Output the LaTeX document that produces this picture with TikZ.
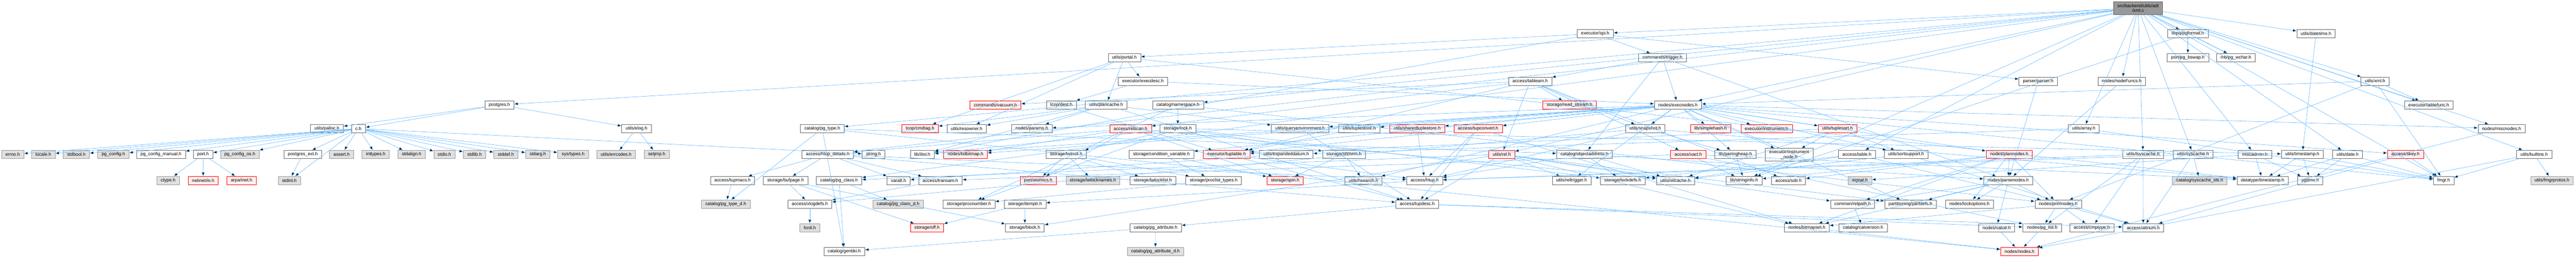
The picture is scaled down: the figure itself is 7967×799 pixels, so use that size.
\documentclass[tikz,border=0pt]{standalone}
\usepackage{fontspec}
\setmainfont{Liberation Sans}
\usetikzlibrary{arrows.meta}
\definecolor{edgeblue}{HTML}{63B8FF}
\definecolor{boxline}{HTML}{666666}
\definecolor{sysline}{HTML}{999999}
\definecolor{sysfill}{HTML}{E0E0E0}
\definecolor{cutfill}{HTML}{FFF0F0}
\definecolor{rootfill}{HTML}{999999}
\tikzset{
  hdr/.style={draw=boxline, fill=white, line width=1pt, minimum height=25.5pt,
    inner xsep=12.3pt, inner ysep=2pt, align=center, font=\fontsize{14}{15}\selectfont},
  syshdr/.style={hdr, draw=sysline, fill=sysfill},
  cuthdr/.style={hdr, draw=red, fill=cutfill},
  roothdr/.style={hdr, fill=rootfill, minimum height=40pt},
  inc/.style={draw=edgeblue, line width=1pt, -{Stealth[length=12pt,width=9pt,inset=0pt]}},
}
\begin{document}
\begin{tikzpicture}[x=1pt,y=-1pt]
\useasboundingbox (0,0) rectangle (7967,799);
% row 0 and 1
\node[roothdr] (xmlc) at (6612.5,25) {src/backend/utils/adt\\/xml.c};
\node[hdr] (spi) at (4933.5,104.5) {executor/spi.h};
\node[hdr] (pqformat) at (6766.5,104.5) {libpq/pqformat.h};
\node[hdr] (datetime) at (7163,104.5) {utils/datetime.h};
% row 2
\node[hdr] (portal) at (3477.5,178.5) {utils/portal.h};
\node[hdr] (trigger) at (5141.5,178.5) {commands/trigger.h};
\node[hdr] (bswap) at (6766.5,178.5) {port/pg\_bswap.h};
\node[hdr] (wchar) at (6915,178.5) {mb/pg\_wchar.h};
% row 3
\node[hdr] (execdesc) at (3535,251.5) {executor/execdesc.h};
\node[hdr] (tableam) at (4732.5,251.5) {access/tableam.h};
\node[hdr] (parser) at (6303.5,251.5) {parser/parser.h};
\node[hdr] (nodefuncs) at (6562,251.5) {nodes/nodeFuncs.h};
\node[hdr] (xmlh) at (7345.5,251.5) {utils/xml.h};
% row 4
\node[hdr] (pgh) at (1544.5,325) {postgres.h};
\node[cuthdr] (vacuum) at (3078.5,325) {commands/vacuum.h};
\node[hdr] (dest) at (3282.5,325) {tcop/dest.h};
\node[hdr] (plancache) at (3421,325) {utils/plancache.h};
\node[hdr] (namespace) at (3643,325) {catalog/namespace.h};
\node[cuthdr] (readstream) at (4854.5,325) {storage/read\_stream.h};
\node[hdr] (execnodes) at (5189.5,325) {nodes/execnodes.h};
\node[hdr] (tablefunc) at (7511.5,325) {executor/tablefunc.h};
% row 5
\node[hdr] (palloc) at (1011,398.5) {utils/palloc.h};
\node[hdr] (ch) at (1108.5,398.5) {c.h};
\node[hdr] (elog) at (1968.5,398.5) {utils/elog.h};
\node[hdr] (pgtype) at (2543,398.5) {catalog/pg\_type.h};
\node[cuthdr] (cmdtag) at (2845.5,398.5) {tcop/cmdtag.h};
\node[hdr] (resowner) at (2989.5,398.5) {utils/resowner.h};
\node[hdr] (params) at (3191,398.5) {nodes/params.h};
\node[cuthdr] (relscan) at (3496.5,398.5) {access/relscan.h};
\node[hdr] (lock) at (3642.5,398.5) {storage/lock.h};
\node[hdr] (queryenv) at (4020.5,398.5) {utils/queryenvironment.h};
\node[hdr] (tuplestore) at (4204,398.5) {utils/tuplestore.h};
\node[cuthdr] (sharedts) at (4383,398.5) {utils/sharedtuplestore.h};
\node[cuthdr] (tupconvert) at (4571.5,398.5) {access/tupconvert.h};
\node[hdr] (snapshot) at (5088.5,398.5) {utils/snapshot.h};
\node[cuthdr] (simplehash) at (5290.5,398.5) {lib/simplehash.h};
\node[cuthdr] (instrument) at (5463.5,398.5) {executor/instrument.h};
\node[cuthdr] (tuplesort) at (5683,398.5) {utils/tuplesort.h};
\node[hdr] (array) at (6444.5,398.5) {utils/array.h};
\node[hdr] (miscnodes) at (7736.5,398.5) {nodes/miscnodes.h};
% row 6
\node[syshdr] (errno) at (39,478.5) {errno.h};
\node[syshdr] (locale) at (134,478.5) {locale.h};
\node[syshdr] (stdbool) at (236,478.5) {stdbool.h};
\node[syshdr] (pgconfig) at (350.5,478.5) {pg\_config.h};
\node[hdr] (pgcfgman) at (498,478.5) {pg\_config\_manual.h};
\node[hdr] (port) at (628,478.5) {port.h};
\node[syshdr] (pgcfgos) at (741.5,478.5) {pg\_config\_os.h};
\node[hdr] (pgext) at (936.5,478.5) {postgres\_ext.h};
\node[syshdr] (assert) at (1056.5,478.5) {assert.h};
\node[syshdr] (inttypes) at (1162,478.5) {inttypes.h};
\node[syshdr] (stdalign) at (1273,478.5) {stdalign.h};
\node[syshdr] (stdio) at (1374.5,478.5) {stdio.h};
\node[syshdr] (stdlib) at (1467.5,478.5) {stdlib.h};
\node[syshdr] (stddef) at (1564.5,478.5) {stddef.h};
\node[syshdr] (stdarg) at (1663.5,478.5) {stdarg.h};
\node[syshdr] (systypes) at (1772.5,478.5) {sys/types.h};
\node[syshdr] (errcodes) at (1905.5,478.5) {utils/errcodes.h};
\node[syshdr] (setjmp) at (2031,478.5) {setjmp.h};
\node[hdr] (htupdet) at (2560,478.5) {access/htup\_details.h};
\node[hdr] (string) at (2701.5,478.5) {string.h};
\node[hdr] (ilist) at (2852.5,478.5) {lib/ilist.h};
\node[cuthdr] (tidbitmap) at (2986,478.5) {nodes/tidbitmap.h};
\node[hdr] (lwlock) at (3297.5,478.5) {storage/lwlock.h};
\node[hdr] (condvar) at (3592,478.5) {storage/condition\_variable.h};
\node[cuthdr] (tuptable) at (3793.5,478.5) {executor/tuptable.h};
\node[hdr] (expanded) at (3978,478.5) {utils/expandeddatum.h};
\node[hdr] (shmem) at (4156.5,478.5) {storage/shmem.h};
\node[cuthdr] (rel) at (4644.5,478.5) {utils/rel.h};
\node[hdr] (objaddr) at (4900.5,478.5) {catalog/objectaddress.h};
\node[cuthdr] (xact) at (5221.5,478.5) {access/xact.h};
\node[hdr] (pairing) at (5367,478.5) {lib/pairingheap.h};
\node[hdr, minimum height=40pt] (instrnode) at (5533.5,480) {executor/instrument\\\_node.h};
\node[hdr] (table) at (5743,478.5) {access/table.h};
\node[hdr] (sortsup) at (5895,478.5) {utils/sortsupport.h};
\node[cuthdr] (plannodes) at (6214,478.5) {nodes/plannodes.h};
\node[hdr] (lsyscache) at (6628,478.5) {utils/lsyscache.h};
\node[hdr] (syscache) at (6782.5,478.5) {utils/syscache.h};
\node[hdr] (miscadmin) at (6973.5,478.5) {miscadmin.h};
\node[hdr] (timestamp) at (7120.5,478.5) {utils/timestamp.h};
\node[hdr] (date) at (7260.5,478.5) {utils/date.h};
\node[cuthdr] (skey) at (7439.5,478.5) {access/skey.h};
\node[hdr] (builtins) at (7837.5,478.5) {utils/builtins.h};
% row 7
\node[syshdr] (ctype) at (520,559.5) {ctype.h};
\node[cuthdr] (netinet) at (628.5,559.5) {netinet/in.h};
\node[cuthdr] (arpa) at (747,559.5) {arpa/inet.h};
\node[syshdr] (stdint) at (895,559.5) {stdint.h};
\node[hdr] (tupmacs) at (2265.5,559.5) {access/tupmacs.h};
\node[hdr] (bufpage) at (2429.5,559.5) {storage/bufpage.h};
\node[hdr] (pgclass) at (2595,559.5) {catalog/pg\_class.h};
\node[hdr] (varatt) at (2779,559.5) {varatt.h};
\node[hdr] (transam) at (2908.5,559.5) {access/transam.h};
\node[cuthdr] (atomics) at (3211,559.5) {port/atomics.h};
\node[syshdr] (lwlocknames) at (3380,559.5) {storage/lwlocknames.h};
\node[hdr] (lwlocklist) at (3565.5,559.5) {storage/lwlocklist.h};
\node[hdr] (proclist) at (3753.5,559.5) {storage/proclist\_types.h};
\node[cuthdr] (spin) at (3974.5,559.5) {storage/spin.h};
\node[hdr] (hsearch) at (4217,559.5) {utils/hsearch.h};
\node[hdr] (htup) at (4406,559.5) {access/htup.h};
\node[hdr] (reltrigger) at (4860.5,559.5) {utils/reltrigger.h};
\node[hdr] (lockdefs) at (5018.5,559.5) {storage/lockdefs.h};
\node[hdr] (relcache) at (5181.5,559.5) {utils/relcache.h};
\node[hdr] (stringinfo) at (5394,559.5) {lib/stringinfo.h};
\node[hdr] (sdir) at (5531.5,559.5) {access/sdir.h};
\node[syshdr] (signal) at (5752.5,559.5) {signal.h};
\node[hdr] (parsenodes) at (6211,559.5) {nodes/parsenodes.h};
\node[syshdr] (syscacheids) at (6803,559.5) {catalog/syscache\_ids.h};
\node[hdr] (dtimestamp) at (6997.5,559.5) {datatype/timestamp.h};
\node[hdr] (pgtime) at (7145,559.5) {pgtime.h};
\node[hdr] (fmgr) at (7557.5,559.5) {fmgr.h};
\node[syshdr] (fmgrprotos) at (7892.5,559.5) {utils/fmgrprotos.h};
% row 8
\node[syshdr] (pgtyped) at (2244.5,632.5) {catalog/pg\_type\_d.h};
\node[hdr] (xlogdefs) at (2504.5,632.5) {access/xlogdefs.h};
\node[syshdr] (pgclassd) at (2777.5,632.5) {catalog/pg\_class\_d.h};
\node[hdr] (procnumber) at (2996.5,632.5) {storage/procnumber.h};
\node[hdr] (itemptr) at (3170,632.5) {storage/itemptr.h};
\node[hdr] (tupdesc) at (4383,632.5) {access/tupdesc.h};
\node[hdr] (relpath) at (5729.5,632.5) {common/relpath.h};
\node[hdr] (partdefs) at (5908.5,632.5) {partitioning/partdefs.h};
\node[hdr] (lockopts) at (6091,632.5) {nodes/lockoptions.h};
\node[hdr] (primnodes) at (6365.5,632.5) {nodes/primnodes.h};
% row 9 and 10
\node[syshdr] (fcntl) at (2504.5,706) {fcntl.h};
\node[cuthdr] (off) at (2867,706) {storage/off.h};
\node[hdr] (block) at (3169.5,706) {storage/block.h};
\node[hdr] (pgattr) at (3574,706) {catalog/pg\_attribute.h};
\node[hdr] (bitmapset) at (5588,706) {nodes/bitmapset.h};
\node[hdr] (catversion) at (5762,706) {catalog/catversion.h};
\node[hdr] (value) at (6175,706) {nodes/value.h};
\node[hdr] (pglist) at (6316,706) {nodes/pg\_list.h};
\node[hdr] (cmptype) at (6469.5,706) {access/cmptype.h};
\node[hdr] (attnum) at (6628.5,706) {access/attnum.h};
\node[hdr] (genbki) at (2611,779.5) {catalog/genbki.h};
\node[syshdr] (pgattrd) at (3573.5,779.5) {catalog/pg\_attribute\_d.h};
\node[cuthdr] (nodes) at (6246,779.5) {nodes/nodes.h};
% includes
\path[inc] (xmlc) edge (pgh) edge (htupdet) edge (table) edge (namespace) edge (pgclass)
  edge (pgtype) edge (spi) edge (tablefunc) edge (fmgr) edge (stringinfo) edge (pqformat)
  edge (wchar) edge (miscadmin) edge (execnodes) edge (miscnodes) edge (nodefuncs)
  edge (array) edge (builtins) edge (date) edge (datetime) edge (lsyscache) edge (rel)
  edge (syscache) edge (xmlh);
\path[inc] (pgh) edge (palloc) edge (ch) edge (elog);
\path[inc] (ch) edge (errno) edge (locale) edge (stdbool) edge (pgconfig) edge (pgcfgman)
  edge (port) edge (pgcfgos) edge (pgext) edge (stdint) edge (assert) edge (inttypes)
  edge (stdalign) edge (stdio) edge (stdlib) edge (stddef) edge (stdarg) edge (systypes)
  edge (string);
\path[inc] (port) edge (ctype) edge (netinet) edge (arpa);
\path[inc] (pgext) edge (stdint);
\path[inc] (elog) edge (errcodes) edge (setjmp);
\path[inc] (htupdet) edge (htup) edge (transam) edge (tupdesc) edge (tupmacs) edge (bufpage) edge (varatt);
\path[inc] (tupmacs) edge (pgtyped);
\path[inc] (bufpage) edge (xlogdefs) edge (block) edge (off);
\path[inc] (xlogdefs) edge (fcntl);
\path[inc] (transam) edge (xlogdefs);
\path[inc] (pgclass) edge (genbki) edge (pgclassd);
\path[inc] (pgtype) edge (genbki) edge (objaddr) edge (pgtyped) edge (nodes);
\path[inc] (tupdesc) edge (attnum) edge (pgattr) edge (pglist);
\path[inc] (pgattr) edge (genbki) edge (pgattrd);
\path[inc] (htup) edge (itemptr);
\path[inc] (itemptr) edge (block) edge (off);
\path[inc] (table) edge (primnodes) edge (lockdefs) edge (relcache);
\path[inc] (namespace) edge (lock) edge (primnodes) edge (procnumber);
\path[inc] (lock) edge (ilist) edge (lockdefs) edge (lwlock) edge (shmem) edge (timestamp) edge (procnumber);
\path[inc] (lwlock) edge (atomics) edge (lwlocknames) edge (lwlocklist) edge (proclist);
\path[inc] (proclist) edge (procnumber);
\path[inc] (condvar) edge (proclist) edge (spin);
\path[inc] (shmem) edge (hsearch) edge (spin);
\path[inc] (spi) edge (trigger) edge (ilist) edge (parser) edge (portal);
\path[inc] (trigger) edge (tableam) edge (objaddr) edge (execnodes) edge (parsenodes);
\path[inc] (portal) edge (execdesc) edge (plancache) edge (cmdtag) edge (resowner) edge (dtimestamp);
\path[inc] (execdesc) edge (dest) edge (execnodes);
\path[inc] (dest) edge (tuptable);
\path[inc] (plancache) edge (tupdesc) edge (ilist) edge (params) edge (cmdtag) edge (queryenv) edge (resowner);
\path[inc] (queryenv) edge (tupdesc);
\path[inc] (tuplestore) edge (tuptable);
\path[inc] (sharedts) edge (htup);
\path[inc] (tupconvert) edge (htup) edge (tupdesc) edge (tuptable) edge (bitmapset);
\path[inc] (tuptable) edge (htup) edge (tupdesc);
\path[inc] (relscan) edge (htupdet) edge (tidbitmap) edge (atomics) edge (spin) edge (relcache);
\path[inc] (tableam) edge (relscan) edge (sdir) edge (xact) edge (vacuum) edge (tuptable)
  edge (readstream) edge (rel) edge (snapshot);
\path[inc] (rel) edge (tupdesc) edge (pgclass) edge (bitmapset) edge (partdefs) edge (block)
  edge (relcache) edge (reltrigger) edge (relpath);
\path[inc] (objaddr) edge (htup) edge (parsenodes) edge (lockdefs) edge (relcache);
\path[inc] (xact) edge (transam) edge (stringinfo) edge (pglist) edge (dtimestamp);
\path[inc] (snapshot) edge (htup) edge (xlogdefs) edge (pairing) edge (dtimestamp);
\path[inc] (pairing) edge (stringinfo);
\path[inc] (tuplesort) edge (tuptable) edge (relcache) edge (sortsup) edge (instrnode);
\path[inc] (sortsup) edge (attnum) edge (relcache);
\path[inc] (execnodes) edge (tupconvert) edge (instrument) edge (fmgr) edge (ilist) edge (pairing)
  edge (miscnodes) edge (params) edge (plannodes) edge (tidbitmap) edge (partdefs) edge (condvar)
  edge (hsearch) edge (queryenv) edge (reltrigger) edge (sharedts) edge (snapshot) edge (sortsup)
  edge (tuplesort) edge (tuplestore) edge (simplehash) edge (instrnode) edge (skey);
\path[inc] (plannodes) edge (sdir) edge (relpath) edge (bitmapset) edge (lockopts) edge (parsenodes)
  edge (primnodes) edge (stringinfo);
\path[inc] (parsenodes) edge (relpath) edge (bitmapset) edge (lockopts) edge (primnodes) edge (value) edge (partdefs);
\path[inc] (primnodes) edge (attnum) edge (cmptype) edge (bitmapset) edge (pglist);
\path[inc] (relpath) edge (catversion);
\path[inc] (bitmapset) edge (nodes);
\path[inc] (value) edge (nodes);
\path[inc] (pglist) edge (nodes);
\path[inc] (miscnodes) edge (nodes);
\path[inc] (builtins) edge (fmgr) edge (fmgrprotos) edge (nodes);
\path[inc] (skey) edge (fmgr) edge (attnum);
\path[inc] (timestamp) edge (dtimestamp) edge (pgtime) edge (fmgr);
\path[inc] (date) edge (dtimestamp) edge (pgtime) edge (fmgr);
\path[inc] (datetime) edge (timestamp);
\path[inc] (miscadmin) edge (signal) edge (dtimestamp) edge (pgtime);
\path[inc] (pqformat) edge (stringinfo) edge (wchar) edge (bswap);
\path[inc] (nodefuncs) edge (parsenodes);
\path[inc] (parser) edge (parsenodes);
\path[inc] (lsyscache) edge (htup) edge (attnum) edge (cmptype) edge (pglist);
\path[inc] (syscache) edge (htup) edge (attnum) edge (syscacheids);
\path[inc] (array) edge (expanded) edge (fmgr);
\path[inc] (expanded) edge (varatt);
\path[inc] (xmlh) edge (tablefunc) edge (fmgr) edge (execnodes) edge (primnodes);
\end{tikzpicture}
\end{document}
